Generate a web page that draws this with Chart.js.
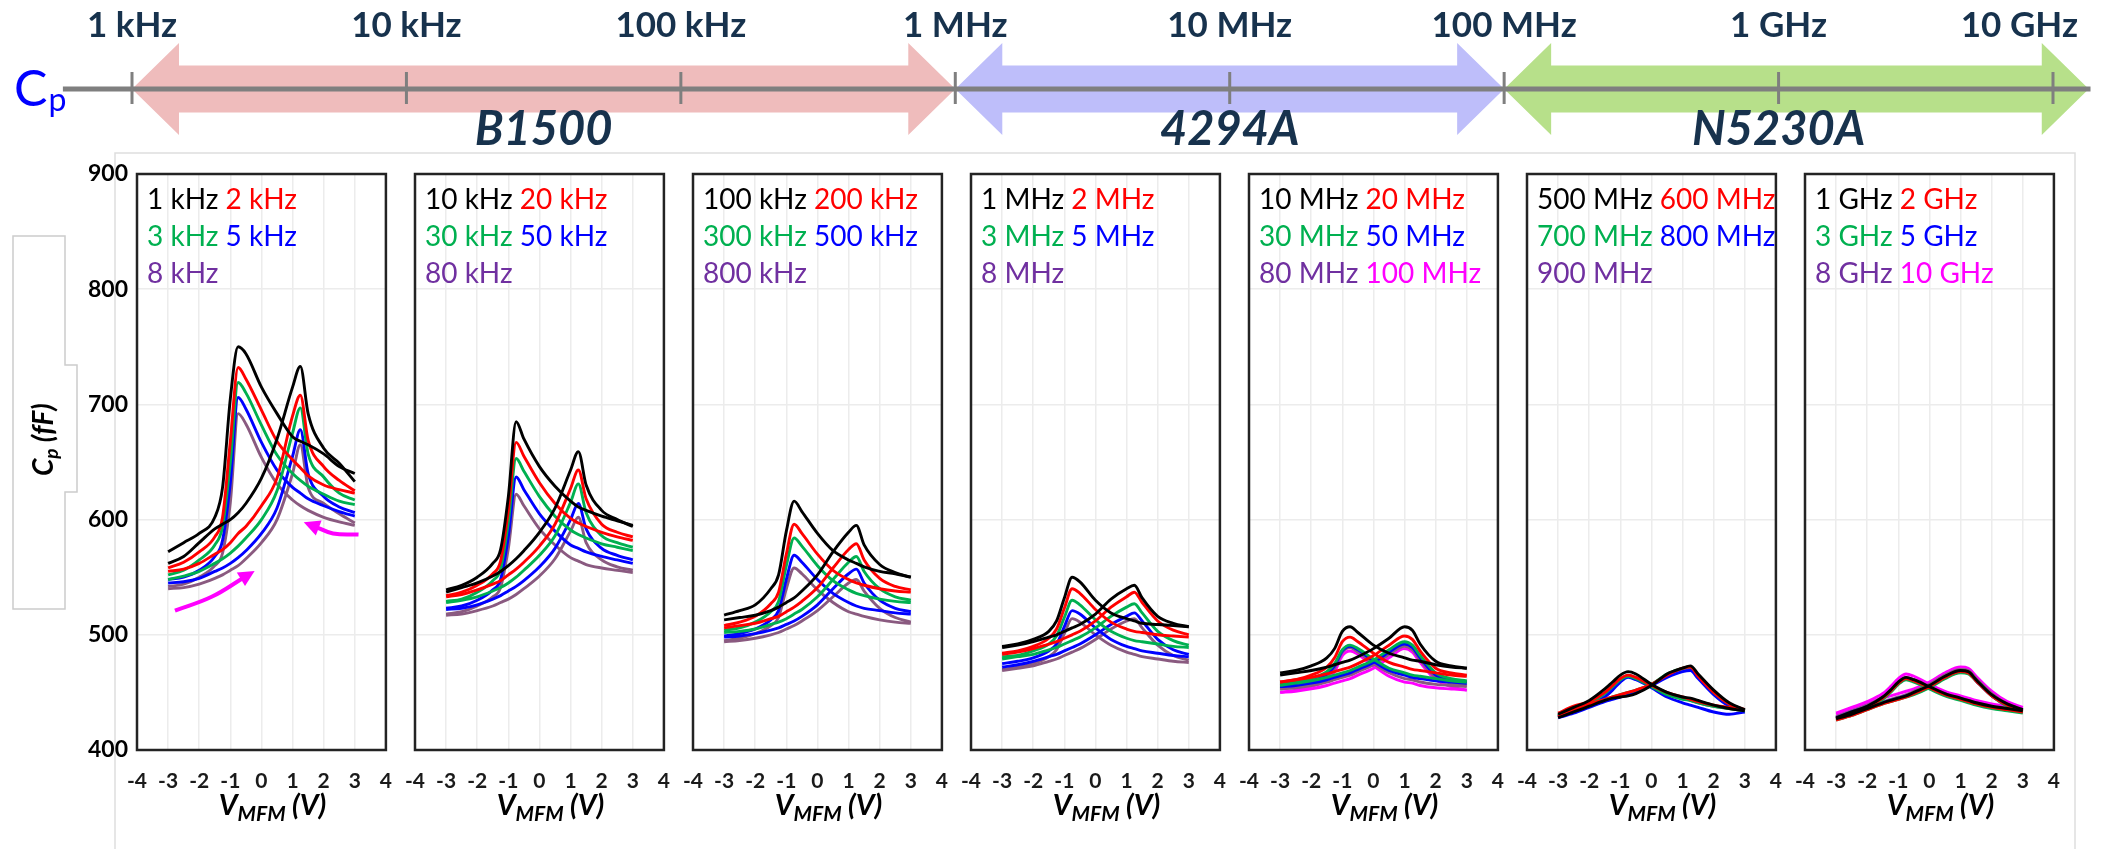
<!DOCTYPE html>
<html>
<head>
<meta charset="utf-8">
<script src="https://cdn.jsdelivr.net/npm/chart.js@4/dist/chart.umd.min.js"></script>
<style>
  html, body { margin: 0; padding: 0; background: #fff; }
  #page { position: relative; width: 2101px; height: 849px; overflow: hidden; background: #fff; }
  #page canvas { position: absolute; top: 0; }
</style>
</head>
<body>
<div id="page">
  <canvas id="freqAxis" width="2101" height="849" style="left:0"></canvas>
</div>
<script>
// bias points shared by every sweep (V)
var V_BIAS = [-3, -2.5, -2, -1.5, -1.25, -1, -0.75, -0.5, 0, 0.5, 1, 1.25, 1.5, 2, 2.5, 3];

var LINE_COLORS = ['#000000', '#ff0000', '#00b050', '#0000ff', '#8a5a80', '#ff00ff'];
var TEXT_COLORS = ['#000000', '#ff0000', '#00b050', '#0000ff', '#7030a0', '#ff00ff'];

// frequency strip along the top
var FREQ_TICKS = [1e3, 1e4, 1e5, 1e6, 1e7, 1e8, 1e9, 1e10];
var FREQ_LABELS = ['1 kHz', '10 kHz', '100 kHz', '1 MHz', '10 MHz', '100 MHz', '1 GHz', '10 GHz'];
var AXIS_SPAN = [5.6e2, 1.37e10];
var INSTRUMENTS = ['B1500', '4294A', 'N5230A'];
var INSTR_FROM = [1e3, 1e6, 1e8];
var INSTR_TO = [1e6, 1e8, 1e10];
var INSTR_REACH = [1e6, 1e8, 1.35e10];
var INSTR_COLORS = ['#efbcbc', '#bebefa', '#b7e08a'];

// legend labels of each panel
var P1_LABELS = ['1 kHz', '2 kHz', '3 kHz', '5 kHz', '8 kHz'];
var P2_LABELS = ['10 kHz', '20 kHz', '30 kHz', '50 kHz', '80 kHz'];
var P3_LABELS = ['100 kHz', '200 kHz', '300 kHz', '500 kHz', '800 kHz'];
var P4_LABELS = ['1 MHz', '2 MHz', '3 MHz', '5 MHz', '8 MHz'];
var P5_LABELS = ['10 MHz', '20 MHz', '30 MHz', '50 MHz', '80 MHz', '100 MHz'];
var P6_LABELS = ['500 MHz', '600 MHz', '700 MHz', '800 MHz', '900 MHz'];
var P7_LABELS = ['1 GHz', '2 GHz', '3 GHz', '5 GHz', '8 GHz', '10 GHz'];

// Cp (fF), sweep +3 -> -3 (peak near -0.8 V)
var P1_REV = [
  [572, 580, 588, 602, 628, 705, 750, 744, 715, 692, 672, 668, 665, 657, 646, 640],
  [558, 563, 572, 585, 602, 668, 732, 722, 695, 668, 652, 645, 638, 630, 626, 623],
  [552, 556, 565, 578, 594, 650, 719, 710, 682, 656, 640, 634, 629, 622, 616, 613],
  [548, 550, 556, 568, 582, 632, 706, 696, 667, 643, 628, 623, 618, 612, 607, 603],
  [542, 544, 550, 560, 571, 615, 692, 683, 654, 631, 617, 612, 608, 602, 598, 595]
];
// Cp (fF), sweep -3 -> +3 (peak near +1.2 V)
var P1_FWD = [
  [562, 568, 580, 592, 596, 600, 606, 614, 636, 670, 715, 733, 692, 662, 649, 633],
  [555, 557, 562, 570, 574, 580, 588, 594, 612, 636, 690, 708, 669, 646, 634, 625],
  [548, 551, 555, 562, 566, 571, 577, 584, 600, 625, 675, 697, 657, 637, 623, 617],
  [545, 546, 549, 555, 558, 562, 567, 573, 588, 610, 655, 678, 640, 620, 611, 606],
  [540, 541, 544, 549, 552, 556, 560, 566, 580, 600, 640, 665, 628, 614, 605, 597]
];

var P2_REV = [
  [539, 543, 550, 562, 574, 620, 685, 670, 646, 629, 616, 611, 608, 603, 599, 595],
  [534, 537, 543, 553, 564, 608, 667, 655, 632, 614, 601, 597, 594, 589, 585, 582],
  [529, 531, 537, 547, 557, 598, 653, 642, 620, 603, 591, 587, 584, 579, 576, 573],
  [523, 525, 530, 539, 548, 585, 637, 626, 605, 590, 578, 575, 572, 568, 565, 562],
  [518, 520, 525, 533, 541, 575, 622, 612, 592, 578, 567, 564, 561, 558, 556, 554]
];
var P2_FWD = [
  [537, 541, 545, 551, 555, 560, 566, 573, 589, 610, 643, 659, 630, 608, 600, 594],
  [533, 535, 539, 544, 547, 552, 557, 563, 577, 596, 627, 643, 618, 596, 589, 585],
  [528, 530, 533, 538, 541, 545, 550, 556, 569, 586, 615, 631, 606, 586, 580, 576],
  [522, 523, 526, 531, 534, 538, 542, 547, 559, 575, 600, 614, 592, 575, 569, 565],
  [517, 518, 521, 525, 528, 531, 535, 540, 551, 566, 590, 602, 580, 565, 559, 556]
];

var P3_REV = [
  [517, 521, 526, 540, 552, 590, 616, 607, 588, 573, 565, 562, 559, 555, 553, 550],
  [508, 511, 516, 527, 537, 570, 596, 588, 570, 556, 548, 545, 543, 540, 538, 537],
  [504, 506, 511, 520, 529, 560, 584, 577, 560, 547, 539, 536, 534, 531, 529, 528],
  [499, 501, 505, 513, 521, 548, 569, 563, 548, 536, 528, 525, 523, 521, 519, 518],
  [495, 497, 501, 508, 515, 540, 558, 553, 539, 528, 520, 518, 516, 513, 511, 510]
];
var P3_FWD = [
  [513, 515, 517, 521, 524, 528, 532, 538, 552, 572, 589, 595, 578, 561, 554, 550],
  [506, 508, 510, 514, 516, 520, 524, 529, 541, 558, 574, 579, 565, 549, 542, 539],
  [502, 503, 505, 509, 511, 514, 518, 522, 533, 548, 563, 568, 555, 540, 533, 530],
  [498, 499, 501, 504, 506, 509, 512, 516, 526, 540, 553, 557, 545, 530, 523, 520],
  [494, 495, 497, 500, 502, 505, 508, 512, 521, 533, 545, 548, 538, 523, 515, 511]
];

var P4_REV = [
  [490, 492, 496, 503, 512, 532, 550, 546, 530, 519, 514, 512, 510, 509, 508, 507],
  [484, 486, 490, 497, 505, 523, 540, 536, 522, 511, 505, 503, 502, 500, 499, 498],
  [481, 482, 486, 492, 499, 515, 530, 526, 513, 503, 497, 495, 494, 492, 490, 489],
  [475, 477, 480, 486, 492, 507, 521, 518, 506, 496, 490, 488, 486, 484, 482, 481],
  [470, 472, 475, 481, 487, 501, 514, 511, 500, 491, 485, 483, 481, 479, 477, 476]
];
var P4_FWD = [
  [489, 491, 494, 498, 500, 503, 506, 509, 518, 531, 540, 543, 532, 516, 510, 507],
  [483, 485, 488, 492, 494, 497, 500, 503, 512, 524, 533, 537, 528, 512, 504, 500],
  [479, 481, 483, 487, 489, 492, 495, 498, 506, 516, 524, 527, 519, 503, 495, 491],
  [472, 474, 477, 481, 483, 486, 489, 492, 500, 509, 516, 519, 512, 496, 487, 483],
  [469, 471, 473, 477, 479, 482, 485, 488, 496, 505, 512, 514, 506, 491, 482, 478]
];

var P5_REV = [
  [467, 469, 473, 480, 488, 503, 507, 502, 491, 484, 480, 478, 477, 474, 472, 471],
  [459, 461, 465, 472, 480, 494, 498, 494, 484, 476, 472, 470, 469, 467, 465, 464],
  [457, 459, 462, 468, 475, 487, 491, 488, 479, 471, 467, 465, 464, 462, 460, 459],
  [455, 457, 460, 466, 473, 486, 490, 487, 477, 469, 465, 463, 462, 460, 459, 458],
  [453, 455, 458, 464, 471, 485, 489, 485, 475, 467, 462, 461, 459, 457, 456, 455],
  [450, 452, 455, 461, 468, 482, 486, 483, 473, 464, 459, 458, 456, 454, 453, 452]
];
var P5_FWD = [
  [465, 467, 469, 472, 474, 476, 478, 481, 488, 497, 507, 504, 492, 477, 473, 471],
  [459, 461, 463, 466, 468, 470, 472, 475, 482, 491, 499, 496, 486, 471, 467, 465],
  [456, 458, 460, 463, 465, 467, 469, 472, 478, 487, 494, 491, 482, 467, 462, 460],
  [455, 456, 458, 461, 463, 465, 467, 470, 476, 485, 492, 489, 480, 465, 461, 459],
  [453, 454, 456, 459, 461, 463, 465, 468, 474, 483, 490, 487, 478, 463, 458, 456],
  [450, 451, 453, 456, 458, 460, 462, 465, 471, 480, 488, 485, 476, 461, 455, 452]
];

var P6_REV = [
  [431, 437, 443, 453, 459, 465, 468, 466, 457, 450, 446, 445, 443, 439, 436, 434],
  [432, 438, 442, 450, 456, 462, 465, 463, 456, 450, 446, 444, 442, 439, 437, 435],
  [430, 436, 441, 449, 455, 461, 464, 462, 455, 448, 444, 443, 441, 438, 436, 434],
  [429, 433, 438, 446, 452, 459, 463, 461, 454, 446, 441, 439, 437, 433, 431, 433],
  [430, 435, 440, 449, 455, 461, 465, 463, 456, 449, 445, 443, 441, 438, 436, 434]
];
var P6_FWD = [
  [428, 433, 438, 443, 445, 446, 447, 449, 456, 466, 471, 473, 466, 452, 441, 435],
  [429, 435, 440, 444, 446, 448, 450, 452, 457, 465, 471, 472, 464, 450, 440, 435],
  [430, 435, 440, 444, 446, 448, 450, 452, 457, 466, 471, 472, 465, 450, 440, 434],
  [428, 432, 437, 442, 444, 446, 448, 450, 456, 463, 468, 469, 462, 448, 438, 434],
  [429, 434, 439, 443, 445, 447, 449, 451, 457, 465, 470, 471, 465, 451, 440, 434]
];

var P7_REV = [
  [428, 433, 438, 446, 452, 459, 463, 461, 455, 449, 445, 443, 441, 438, 436, 434],
  [427, 432, 437, 445, 451, 458, 462, 460, 454, 448, 444, 442, 440, 437, 435, 433],
  [427, 432, 437, 444, 450, 457, 461, 459, 453, 447, 443, 441, 439, 436, 434, 432],
  [428, 433, 438, 445, 451, 458, 462, 460, 454, 448, 444, 442, 440, 437, 435, 433],
  [429, 434, 439, 446, 452, 459, 463, 461, 455, 449, 445, 443, 441, 438, 436, 434],
  [432, 437, 442, 449, 455, 462, 466, 464, 457, 451, 447, 445, 443, 440, 438, 436]
];
var P7_FWD = [
  [427, 431, 436, 441, 443, 445, 447, 450, 456, 464, 469, 468, 461, 448, 440, 435],
  [426, 430, 435, 440, 442, 444, 446, 449, 455, 463, 468, 467, 460, 447, 439, 434],
  [426, 430, 435, 440, 442, 444, 446, 448, 454, 462, 467, 466, 460, 447, 438, 433],
  [427, 431, 436, 441, 443, 445, 447, 449, 455, 463, 468, 467, 460, 447, 439, 434],
  [428, 432, 437, 442, 444, 446, 448, 451, 457, 465, 470, 469, 462, 449, 440, 435],
  [431, 435, 440, 445, 447, 449, 451, 453, 459, 467, 472, 471, 464, 451, 442, 437]
];

// sweep-direction arrows in the first panel
var ARROW_UP_X = [-2.78, -1.6, -0.55];
var ARROW_UP_Y = [521, 533, 550];
var ARROW_BACK_X = [3.12, 2.3, 1.72];
var ARROW_BACK_Y = [587, 588, 594];

var PANELS = [
  { labels: P1_LABELS, rev: P1_REV, fwd: P1_FWD },
  { labels: P2_LABELS, rev: P2_REV, fwd: P2_FWD },
  { labels: P3_LABELS, rev: P3_REV, fwd: P3_FWD },
  { labels: P4_LABELS, rev: P4_REV, fwd: P4_FWD },
  { labels: P5_LABELS, rev: P5_REV, fwd: P5_FWD },
  { labels: P6_LABELS, rev: P6_REV, fwd: P6_FWD },
  { labels: P7_LABELS, rev: P7_REV, fwd: P7_FWD }
];

// layout
var PANEL_X0 = 137, PANEL_PITCH = 278, PANEL_W = 250;
var PLOT_TOP = 174, PLOT_BOTTOM = 750, PAGE_H = 849;
var NAVY = '#17324d';

var freqStrip = {
  id: 'freqStrip',
  afterDraw: function(chart) {
    var ctx = chart.ctx, xs = chart.scales.x;
    var yc = 89;
    ctx.save();

    // light frame around the panels
    ctx.strokeStyle = '#dedede';
    ctx.lineWidth = 1.5;
    ctx.beginPath();
    ctx.moveTo(115, PAGE_H); ctx.lineTo(115, 153); ctx.lineTo(2075, 153); ctx.lineTo(2075, PAGE_H);
    ctx.stroke();

    // outline behind the y title
    ctx.strokeStyle = '#cccccc';
    ctx.beginPath();
    ctx.moveTo(65, 236); ctx.lineTo(13, 236); ctx.lineTo(13, 609); ctx.lineTo(65, 609);
    ctx.lineTo(65, 492); ctx.lineTo(77, 492); ctx.lineTo(77, 365); ctx.lineTo(65, 365); ctx.closePath();
    ctx.stroke();

    // y title, rotated
    ctx.save();
    ctx.translate(53, 476);
    ctx.rotate(-Math.PI / 2);
    ctx.fillStyle = '#000';
    ctx.textBaseline = 'alphabetic';
    ctx.textAlign = 'left';
    ctx.font = 'italic bold 28px Lato';
    ctx.fillText('C', 0, 0);
    var wc = ctx.measureText('C').width;
    ctx.font = 'italic bold 19px Lato';
    ctx.fillText('p', wc, 5);
    var wp = ctx.measureText('p').width;
    ctx.font = 'italic bold 28px Lato';
    ctx.fillText(' (fF)', wc + wp, 0);
    ctx.restore();

    // instrument ranges as double arrows
    var head = 47, shaft = 23.5, wing = 46;
    INSTRUMENTS.forEach(function(name, i) {
      var x0 = xs.getPixelForValue(INSTR_FROM[i]);
      var x1 = xs.getPixelForValue(INSTR_REACH[i]);
      ctx.fillStyle = INSTR_COLORS[i];
      ctx.beginPath();
      ctx.moveTo(x0, yc);
      ctx.lineTo(x0 + head, yc - wing);
      ctx.lineTo(x0 + head, yc - shaft);
      ctx.lineTo(x1 - head, yc - shaft);
      ctx.lineTo(x1 - head, yc - wing);
      ctx.lineTo(x1, yc);
      ctx.lineTo(x1 - head, yc + wing);
      ctx.lineTo(x1 - head, yc + shaft);
      ctx.lineTo(x0 + head, yc + shaft);
      ctx.lineTo(x0 + head, yc + wing);
      ctx.closePath();
      ctx.fill();
    });

    // axis line and decade ticks
    ctx.strokeStyle = '#7f7f7f';
    ctx.lineWidth = 5;
    ctx.beginPath();
    ctx.moveTo(xs.getPixelForValue(AXIS_SPAN[0]), yc);
    ctx.lineTo(xs.getPixelForValue(AXIS_SPAN[1]), yc);
    ctx.stroke();
    ctx.lineWidth = 3;
    FREQ_TICKS.forEach(function(f) {
      var x = xs.getPixelForValue(f);
      ctx.beginPath();
      ctx.moveTo(x, yc - 17);
      ctx.lineTo(x, yc + 15);
      ctx.stroke();
    });

    // decade labels
    ctx.fillStyle = NAVY;
    ctx.font = 'bold 35px Lato';
    ctx.textAlign = 'center';
    ctx.textBaseline = 'middle';
    FREQ_LABELS.forEach(function(t, i) {
      var w = ctx.measureText(t).width;
      var x = Math.min(xs.getPixelForValue(FREQ_TICKS[i]), 2078 - w / 2);
      ctx.fillText(t, x, 26);
    });

    // instrument names
    ctx.font = 'italic bold 47px Lato';
    INSTRUMENTS.forEach(function(name, i) {
      var x = xs.getPixelForValue(Math.sqrt(INSTR_FROM[i] * INSTR_TO[i]));
      ctx.fillText(name, x, 130);
    });

    // Cp marker
    ctx.fillStyle = '#0000ff';
    ctx.textAlign = 'left';
    ctx.textBaseline = 'alphabetic';
    ctx.font = '50px Lato';
    ctx.fillText('C', 14, 106);
    var cw = ctx.measureText('C').width;
    ctx.font = '32px Lato';
    ctx.fillText('p', 14 + cw + 1, 111);

    ctx.restore();
  }
};

new Chart(document.getElementById('freqAxis'), {
  type: 'scatter',
  data: { datasets: [] },
  options: {
    responsive: false,
    animation: false,
    layout: { padding: { left: 132, right: 48, top: 0, bottom: 0 } },
    plugins: { legend: { display: false }, tooltip: { enabled: false } },
    scales: {
      x: { type: 'logarithmic', min: 1e3, max: 1e10, display: false },
      y: { min: 0, max: 1, display: false }
    }
  },
  plugins: [freqStrip]
});

function drawXTitle(ctx, cx, baseline) {
  var big = 'italic bold 29px Lato', small = 'italic bold 21px Lato';
  ctx.font = big;
  var wV = ctx.measureText('V').width, wP = ctx.measureText(' (V)').width;
  ctx.font = small;
  var wM = ctx.measureText('MFM').width;
  var x = cx - (wV + wM + wP) / 2;
  ctx.fillStyle = '#000';
  ctx.textAlign = 'left';
  ctx.textBaseline = 'alphabetic';
  ctx.font = big; ctx.fillText('V', x, baseline); x += wV;
  ctx.font = small; ctx.fillText('MFM', x, baseline + 6); x += wM;
  ctx.font = big; ctx.fillText(' (V)', x, baseline);
}

var panelDeco = {
  id: 'panelDeco',
  afterDatasetsDraw: function(chart, args, opts) {
    var ctx = chart.ctx, a = chart.chartArea;
    ctx.save();

    // arrow heads on the sweep arrows
    chart.data.datasets.forEach(function(ds, i) {
      if (!ds.isArrow) return;
      var pts = chart.getDatasetMeta(i).data;
      var end = pts[pts.length - 1], prev = pts[pts.length - 2];
      var ang = Math.atan2(end.y - prev.y, end.x - prev.x);
      var c = Math.cos(ang), s = Math.sin(ang);
      var tipX = end.x + c * 12, tipY = end.y + s * 12;
      var bx = end.x - c * 4, by = end.y - s * 4;
      ctx.fillStyle = ds.borderColor;
      ctx.beginPath();
      ctx.moveTo(tipX, tipY);
      ctx.lineTo(bx - s * 8, by + c * 8);
      ctx.lineTo(bx + s * 8, by - c * 8);
      ctx.closePath();
      ctx.fill();
    });

    // plot frame
    ctx.strokeStyle = '#232323';
    ctx.lineWidth = 2.5;
    ctx.strokeRect(a.left, a.top, a.right - a.left, a.bottom - a.top);

    // in-plot legend, two labels per row
    ctx.font = '28px Lato';
    ctx.textAlign = 'left';
    ctx.textBaseline = 'alphabetic';
    var space = ctx.measureText(' ').width;
    var x = a.left + 10;
    opts.labels.forEach(function(t, j) {
      var row = Math.floor(j / 2);
      if (j % 2 === 0) x = a.left + 10;
      ctx.fillStyle = TEXT_COLORS[j];
      ctx.fillText(t, x, a.top + 35 + row * 37);
      x += ctx.measureText(t).width + space;
    });

    drawXTitle(ctx, (a.left + a.right) / 2 + 11, 815);
    ctx.restore();
  }
};

var page = document.getElementById('page');

PANELS.forEach(function(p, i) {
  var axisW = i === 0 ? 137 : 30;
  var cv = document.createElement('canvas');
  cv.width = axisW + PANEL_W + 24;
  cv.height = PAGE_H;
  cv.style.left = (PANEL_X0 + i * PANEL_PITCH - axisW) + 'px';
  page.appendChild(cv);

  var datasets = [];
  p.labels.forEach(function(lab, j) {
    [p.rev[j], p.fwd[j]].forEach(function(vals) {
      datasets.push({
        label: lab,
        data: V_BIAS.map(function(v, k) { return { x: v, y: vals[k] }; }),
        borderColor: LINE_COLORS[j],
        borderWidth: 2.9,
        pointRadius: 0,
        cubicInterpolationMode: 'monotone',
        fill: false
      });
    });
  });

  if (i === 0) {
    [[ARROW_UP_X, ARROW_UP_Y], [ARROW_BACK_X, ARROW_BACK_Y]].forEach(function(arr) {
      datasets.push({
        label: 'sweep',
        isArrow: true,
        data: arr[0].map(function(v, k) { return { x: v, y: arr[1][k] }; }),
        borderColor: '#ff00ff',
        borderWidth: 4,
        pointRadius: 0,
        tension: 0.4,
        fill: false
      });
    });
  }

  new Chart(cv, {
    type: 'line',
    data: { datasets: datasets },
    options: {
      responsive: false,
      animation: false,
      layout: { padding: { top: PLOT_TOP, right: 24, left: 0, bottom: 0 } },
      plugins: {
        legend: { display: false },
        tooltip: { enabled: false },
        panelDeco: { labels: p.labels }
      },
      scales: {
        x: {
          type: 'linear',
          min: -4,
          max: 4,
          ticks: {
            stepSize: 1,
            autoSkip: false,
            maxRotation: 0,
            padding: 19,
            color: '#1a1a1a',
            font: { family: 'Lato', weight: 'bold', size: 21 }
          },
          grid: { color: '#ececec', lineWidth: 1.5, drawTicks: false },
          border: { display: false },
          afterFit: function(s) { s.height = PAGE_H - PLOT_BOTTOM; }
        },
        y: {
          min: 400,
          max: 900,
          ticks: {
            stepSize: 100,
            display: i === 0,
            padding: 9,
            color: '#000',
            font: { family: 'Lato', weight: 'bold', size: 23 }
          },
          grid: { color: '#ececec', lineWidth: 1.5, drawTicks: false },
          border: { display: false },
          afterFit: function(s) { s.width = axisW; }
        }
      }
    },
    plugins: [panelDeco]
  });
});
</script>
</body>
</html>
